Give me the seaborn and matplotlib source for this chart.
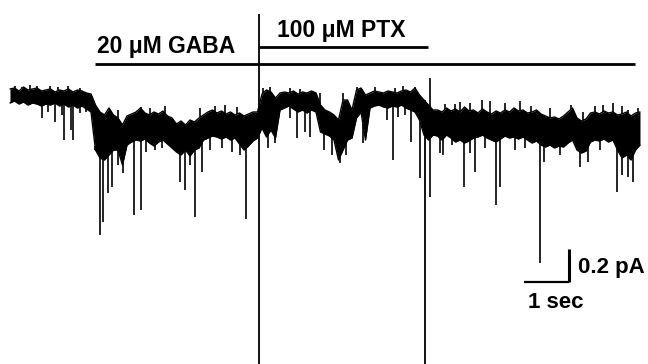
import numpy as np
import pandas as pd
import matplotlib
matplotlib.use("Agg")
import matplotlib.pyplot as plt
import seaborn as sns

# ---- trace envelope (sampled every 0.1 s), current in pA ----
time_s = [round(0.1 * i, 1) for i in range(141)]
upper_pA = [
    0.048, 0.054, 0.036, 0.060, 0.042, 0.048, 0.054, 0.036, 0.042, 0.048,
    0.030, 0.042, 0.036, 0.048, 0.030, 0.042, 0.036, 0.024, 0.018, -0.048,
    -0.090, -0.108, -0.066, -0.108, -0.126, -0.168, -0.114, -0.102, -0.090, -0.066,
    -0.096, -0.108, -0.090, -0.102, -0.084, -0.114, -0.126, -0.162, -0.144, -0.168,
    -0.138, -0.150, -0.126, -0.108, -0.090, -0.078, -0.096, -0.084, -0.102, -0.090,
    -0.108, -0.096, -0.114, -0.102, -0.090, -0.090, 0.018, 0.042, 0.030, -0.006,
    0.024, 0.030, 0.024, 0.036, 0.018, 0.030, 0.024, 0.036, 0.024, -0.048,
    -0.078, -0.090, -0.108, -0.138, -0.018, -0.018, -0.078, 0.042, 0.054, 0.012,
    0.024, 0.036, 0.030, 0.024, 0.036, 0.030, 0.024, 0.036, 0.042, 0.030,
    0.054, 0.012, -0.018, -0.048, -0.078, -0.078, -0.090, -0.066, -0.084, -0.072,
    -0.090, -0.060, -0.084, -0.078, -0.096, -0.072, -0.090, -0.102, -0.084, -0.096,
    -0.078, -0.090, -0.066, -0.084, -0.078, -0.096, -0.090, -0.078, -0.102, -0.114,
    -0.126, -0.120, -0.132, -0.114, -0.090, -0.066, -0.126, -0.144, -0.132, -0.096,
    -0.090, -0.102, -0.084, -0.096, -0.090, -0.108, -0.102, -0.090, -0.114, -0.096,
    -0.090,
]
lower_pA = [
    -0.036, -0.024, -0.042, -0.030, -0.048, -0.036, -0.042, -0.054, -0.042, -0.048,
    -0.036, -0.054, -0.042, -0.060, -0.048, -0.066, -0.054, -0.072, -0.090, -0.318,
    -0.366, -0.378, -0.348, -0.318, -0.318, -0.408, -0.288, -0.270, -0.258, -0.264,
    -0.252, -0.276, -0.294, -0.270, -0.258, -0.282, -0.306, -0.330, -0.348, -0.318,
    -0.354, -0.318, -0.306, -0.258, -0.246, -0.234, -0.240, -0.252, -0.240, -0.258,
    -0.246, -0.282, -0.318, -0.294, -0.264, -0.246, -0.186, -0.240, -0.198, -0.246,
    -0.078, -0.066, -0.054, -0.072, -0.090, -0.078, -0.096, -0.078, -0.090, -0.210,
    -0.222, -0.234, -0.258, -0.378, -0.318, -0.258, -0.246, -0.126, -0.090, -0.258,
    -0.066, -0.054, -0.048, -0.060, -0.066, -0.054, -0.060, -0.048, -0.066, -0.078,
    -0.090, -0.138, -0.228, -0.258, -0.228, -0.234, -0.258, -0.228, -0.246, -0.270,
    -0.258, -0.276, -0.264, -0.246, -0.240, -0.228, -0.246, -0.258, -0.270, -0.252,
    -0.234, -0.246, -0.240, -0.252, -0.240, -0.258, -0.276, -0.264, -0.288, -0.300,
    -0.288, -0.306, -0.294, -0.300, -0.276, -0.258, -0.318, -0.336, -0.324, -0.270,
    -0.258, -0.264, -0.252, -0.270, -0.258, -0.318, -0.366, -0.348, -0.378, -0.318,
    -0.288,
]

# ---- brief channel openings (downward events) ----
down_t = [0.711, 0.844, 1.000, 1.156, 1.200, 1.356, 1.400, 1.556, 1.689, 1.889,
          2.000, 2.067, 2.178, 2.267, 2.400, 2.511, 2.756, 2.911, 3.022, 3.222,
          3.378, 3.778, 3.889, 4.000, 4.111, 4.267, 4.444, 4.711, 4.933, 5.111,
          5.244, 5.733, 5.889, 6.222, 6.378, 6.556, 6.667, 6.978, 7.156, 7.333,
          7.467, 7.844, 8.378, 8.511, 8.622, 8.778, 8.911, 9.111, 9.333, 9.556,
          9.622, 9.822, 10.089, 10.222, 10.333, 10.556, 10.800, 10.889, 11.222, 11.444,
          11.778, 11.867, 12.222, 12.667, 12.844, 13.111, 13.489, 13.600, 13.733, 13.844]
down_pA = [-0.126, -0.090, -0.150, -0.108, -0.258, -0.198, -0.258, -0.096, -0.090, -0.318,
           -0.828, -0.750, -0.576, -0.540, -0.408, -0.456, -0.708, -0.678, -0.330, -0.318,
           -0.306, -0.510, -0.558, -0.408, -0.720, -0.450, -0.318, -0.306, -0.330, -0.348,
           -0.732, -0.306, -0.276, -0.126, -0.246, -0.210, -0.240, -0.318, -0.348, -0.396,
           -0.348, -0.276, -0.138, -0.378, -0.120, -0.108, -0.270, -0.486, -0.600, -0.336,
           -0.348, -0.288, -0.540, -0.336, -0.450, -0.306, -0.648, -0.540, -0.318, -0.306,
           -0.996, -0.390, -0.348, -0.420, -0.390, -0.318, -0.570, -0.468, -0.480, -0.510]

# ---- upward noise excursions ----
up_t = [0.111, 0.267, 0.444, 0.600, 0.889, 1.067, 1.289, 1.556, 2.400, 2.911,
        3.111, 3.444, 4.222, 4.556, 4.778, 5.044, 5.622, 5.778, 6.222, 6.444,
        6.889, 7.400, 7.711, 8.111, 8.556, 8.733, 9.000, 9.333, 9.667, 9.889,
        10.000, 10.222, 10.489, 10.667, 11.000, 11.333, 11.578, 12.000, 12.467, 12.733,
        13.000, 13.178, 13.400, 13.600, 13.733, 13.956]
up_pA = [0.066, 0.060, 0.072, 0.066, 0.066, 0.060, 0.066, 0.054, -0.078, -0.060,
         -0.066, -0.054, -0.066, -0.054, -0.048, -0.060, 0.054, 0.060, 0.054, 0.048,
         0.024, 0.024, 0.060, 0.060, 0.054, 0.066, 0.060, 0.114, -0.042, -0.042,
         -0.030, -0.036, -0.018, -0.024, -0.036, -0.024, -0.054, -0.066, -0.048, -0.090,
         -0.054, -0.048, -0.036, -0.054, -0.078, -0.066]

# ---- solution-exchange artifacts ----
artifact_t = [5.533, 9.222]
artifact_top_pA = [0.498, -0.018]
artifact_bottom_pA = [-1.61, -1.61]

# ---- drug application bars ----
drug_labels = ["20 \u03bcM GABA", "100 \u03bcM PTX"]
drug_start_s = [1.889, 5.533]
drug_end_s = [13.889, 9.289]
drug_level_pA = [0.198, 0.300]
drug_label_t = [1.933, 5.933]
drug_label_pA = [0.264, 0.362]

# ---- scale bar ----
scale_time_s = 1.0
scale_current_pA = 0.2
scale_origin = (12.422, -1.110)
scale_labels = ["1 sec", "0.2 pA"]

sns.set_theme(style="white")
plt.rcParams["font.family"] = ["Liberation Sans", "DejaVu Sans"]

fig = plt.figure(figsize=(6.48, 3.64), dpi=100)
ax = fig.add_axes([0, 0, 1, 1])
ax.set_xlim(-0.222, 14.178)
ax.set_ylim(-1.602, 0.582)
ax.axis("off")

df = pd.DataFrame({"t": time_s, "upper": upper_pA, "lower": lower_pA})
ax.fill_between(df["t"], df["lower"], df["upper"], color="black", lw=0)
sns.lineplot(data=df, x="t", y="upper", ax=ax, color="black", lw=1.0, estimator=None)
sns.lineplot(data=df, x="t", y="lower", ax=ax, color="black", lw=1.0, estimator=None)

base_down = np.interp(down_t, time_s, lower_pA)
ax.vlines(down_t, down_pA, base_down, color="black", lw=1.2)
base_up = np.interp(up_t, time_s, upper_pA)
ax.vlines(up_t, base_up, up_pA, color="black", lw=1.2)

ax.vlines(artifact_t, artifact_bottom_pA, artifact_top_pA, color="black", lw=1.3)

for lab, s, e, lvl, lt, lp in zip(drug_labels, drug_start_s, drug_end_s,
                                  drug_level_pA, drug_label_t, drug_label_pA):
    ax.plot([s, e], [lvl, lvl], color="black", lw=2.0, solid_capstyle="butt")
    ax.text(lt, lp, lab, fontsize=16.5, fontweight="bold", ha="left",
            va="baseline", color="black")

x0, y0 = scale_origin
ax.plot([x0 - scale_time_s, x0], [y0, y0], color="black", lw=1.6, solid_capstyle="butt")
ax.plot([x0, x0], [y0, y0 + scale_current_pA], color="black", lw=2.2, solid_capstyle="butt")
ax.text(11.511, y0 - 0.125, scale_labels[0], fontsize=16, fontweight="bold",
        ha="left", va="center", color="black")
ax.text(x0 + 0.2, y0 + scale_current_pA * 0.42, scale_labels[1], fontsize=16,
        fontweight="bold", ha="left", va="center", color="black")

fig.savefig("out.png", dpi=100, facecolor="white")
